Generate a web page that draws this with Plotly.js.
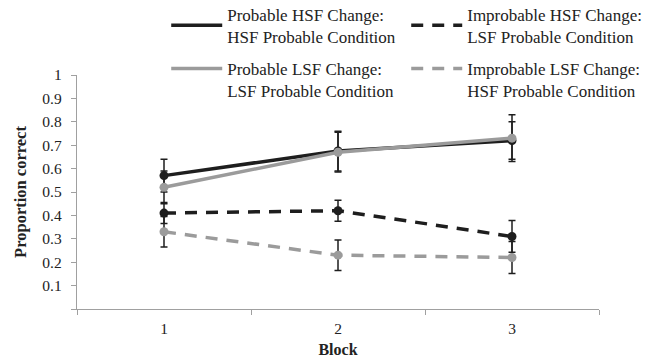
<!DOCTYPE html>
<html>
<head>
<meta charset="utf-8">
<script src="https://cdn.plot.ly/plotly-3.0.1.min.js"></script>
<style>html,body{margin:0;padding:0;background:#fff;}#chart{width:657px;height:358px;}</style>
</head>
<body>
<div id="chart"></div>
<script>
var blocks = ["1", "2", "3"];
var seriesNames = [
  "Probable HSF Change:<br>HSF Probable Condition",
  "Improbable HSF Change:<br>LSF Probable Condition",
  "Probable LSF Change:<br>LSF Probable Condition",
  "Improbable LSF Change:<br>HSF Probable Condition"
];
var probHSF = [0.57, 0.675, 0.72];
var probHSFErr = [0.07, 0.085, 0.08];
var improbHSF = [0.41, 0.42, 0.31];
var improbHSFErr = [0.045, 0.045, 0.068];
var probLSF = [0.52, 0.67, 0.73];
var probLSFErr = [0.07, 0.085, 0.10];
var improbLSF = [0.33, 0.23, 0.22];
var improbLSFErr = [0.065, 0.065, 0.068];
var yTicks = [0, 0.1, 0.2, 0.3, 0.4, 0.5, 0.6, 0.7, 0.8, 0.9, 1];
var yTickText = ["", "0.1", "0.2", "0.3", "0.4", "0.5", "0.6", "0.7", "0.8", "0.9", "1"];

var BLACK = "#1e1e1e", GREY = "#9b9b9b";
var DASH = "12px,9px";
function tr(y, err, color, dash) {
  return {
    type: "scatter", mode: "lines+markers", x: blocks, y: y, showlegend: false,
    line: {color: color, width: 3.5, dash: dash},
    marker: {color: color, size: 9, symbol: "circle"},
    error_y: {type: "data", array: err, visible: true, color: "#1e1e1e", thickness: 1.5, width: 3.5}
  };
}
function leg(name, color, dash, legendId) {
  return {
    type: "scatter", mode: "lines", x: [null], y: [null], name: name,
    legend: legendId, showlegend: true, hoverinfo: "skip",
    line: {color: color, width: 3.5, dash: dash}
  };
}
var data = [
  tr(probHSF, probHSFErr, BLACK, "solid"),
  tr(improbHSF, improbHSFErr, BLACK, DASH),
  tr(probLSF, probLSFErr, GREY, "solid"),
  tr(improbLSF, improbLSFErr, GREY, DASH),
  leg(seriesNames[0], BLACK, "solid", "legend"),
  leg(seriesNames[1], BLACK, DASH, "legend"),
  leg(seriesNames[2], GREY, "solid", "legend2"),
  leg(seriesNames[3], GREY, DASH, "legend2")
];
var F = "Liberation Serif, Times New Roman, serif";
function legendCfg(y, yanchor, valign) {
  return {
    orientation: "h", xref: "container", yref: "container",
    x: 0.253, y: y, xanchor: "left", yanchor: yanchor, valign: valign,
    entrywidth: 174, entrywidthmode: "pixels",
    itemwidth: 51, font: {family: F, size: 17, color: "#222"},
    bgcolor: "rgba(0,0,0,0)", traceorder: "normal"
  };
}
var layout = {
  width: 657, height: 358,
  margin: {l: 77, r: 58, t: 75, b: 49, autoexpand: false},
  paper_bgcolor: "#fff", plot_bgcolor: "#fff",
  font: {family: F, size: 15, color: "#222"},
  showlegend: true,
  legend: legendCfg(0.847, "bottom", "middle"),
  legend2: legendCfg(0.858, "top", "top"),
  xaxis: {
    type: "category", range: [-0.5, 2.5], tickson: "boundaries",
    ticks: "outside", ticklen: 5, tickcolor: "#a0a0a0",
    showline: true, linecolor: "#a0a0a0", linewidth: 1.2,
    showgrid: false, zeroline: false, fixedrange: true,
    ticklabelstandoff: 5,
    tickfont: {family: F, size: 15.5, color: "#222"},
    title: {text: "<b>Block</b>", font: {family: F, size: 16, color: "#222"}, standoff: 9}
  },
  yaxis: {
    range: [0, 1], tickmode: "array", tickvals: yTicks, ticktext: yTickText,
    ticks: "outside", ticklen: 5, tickcolor: "#a0a0a0",
    showline: true, linecolor: "#a0a0a0", linewidth: 1.2,
    showgrid: false, zeroline: false, fixedrange: true,
    ticklabelstandoff: 6,
    tickfont: {family: F, size: 15.5, color: "#222"},
    title: {text: "<b>Proportion correct</b>", font: {family: F, size: 16.5, color: "#222"}, standoff: 11}
  }
};
Plotly.newPlot("chart", data, layout, {displayModeBar: false, staticPlot: true});
</script>
</body>
</html>
